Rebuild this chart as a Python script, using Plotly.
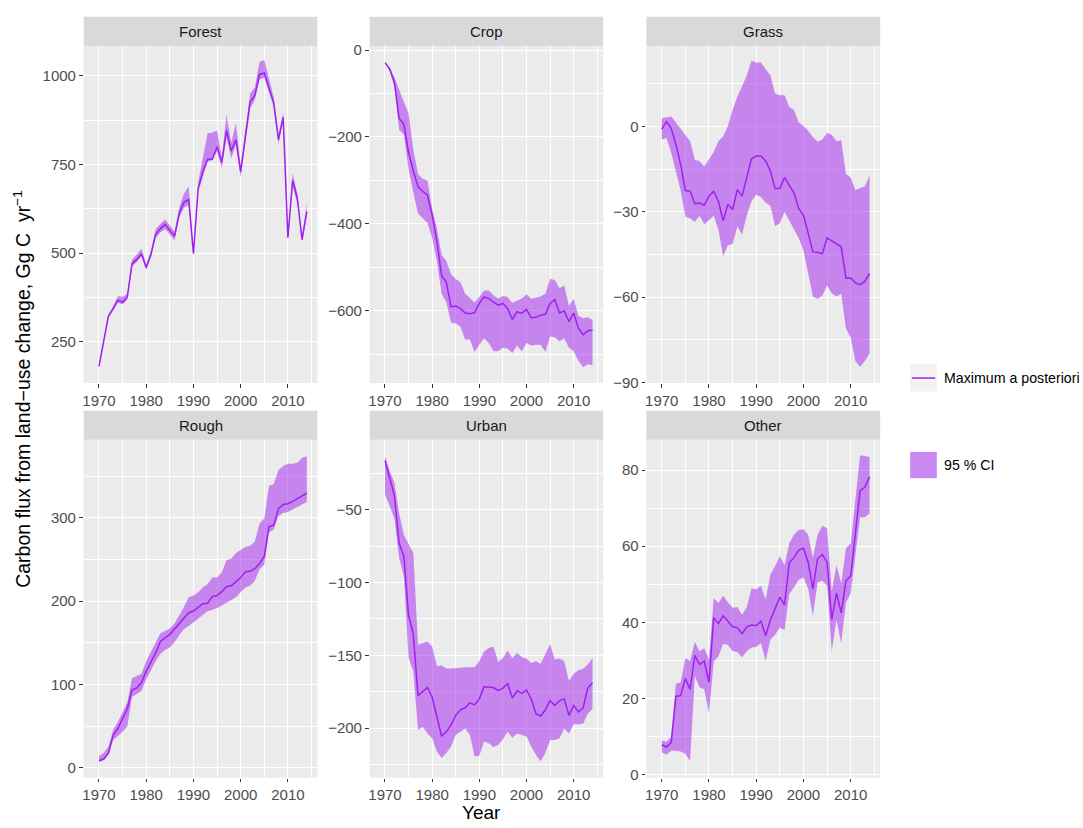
import plotly.graph_objects as go

years = list(range(1970, 2015))

forest_map = [180, 251, 322, 343, 367, 361, 376, 470, 482, 498,
              459, 496, 552, 569, 581, 564, 548, 612, 643, 651,
              499, 681, 730, 765, 765, 800, 756, 846, 788, 820,
              730, 828, 927, 945, 1004, 1008, 969, 924, 820, 883,
              543, 705, 654, 538, 617]
forest_lo = [177, 248, 318, 338, 360, 355, 368, 462, 474, 490,
             452, 488, 542, 558, 568, 552, 536, 600, 628, 636,
             494, 672, 718, 758, 762, 788, 740, 826, 768, 806,
             714, 815, 908, 932, 990, 995, 955, 912, 808, 872,
             540, 690, 640, 532, 605]
forest_hi = [183, 254, 326, 350, 378, 377, 385, 482, 495, 512,
             468, 505, 568, 582, 595, 578, 560, 630, 668, 688,
             505, 700, 768, 838, 840, 846, 768, 890, 812, 866,
             745, 845, 950, 968, 1040, 1045, 995, 940, 835, 895,
             548, 725, 668, 545, 640]

crop_map = [-29, -44, -74, -157, -171, -236, -278, -315, -325, -334,
            -380, -440, -519, -534, -591, -589, -595, -605, -607, -604,
            -583, -568, -572, -580, -587, -583, -595, -620, -602, -606,
            -597, -616, -615, -610, -608, -583, -574, -605, -600, -625,
            -605, -640, -655, -646, -644]
crop_hi = [-29, -40, -63, -93, -119, -146, -229, -285, -296, -300,
           -365, -410, -471, -485, -516, -527, -534, -561, -572, -581,
           -568, -553, -553, -564, -572, -566, -568, -582, -576, -572,
           -562, -572, -570, -567, -561, -527, -529, -548, -542, -589,
           -572, -612, -617, -615, -621]
crop_lo = [-29, -48, -85, -183, -195, -274, -327, -376, -387, -398,
           -432, -485, -561, -580, -627, -629, -636, -666, -666, -695,
           -678, -663, -674, -693, -693, -685, -687, -697, -680, -693,
           -674, -680, -678, -678, -695, -659, -661, -670, -663, -685,
           -693, -715, -730, -723, -725]

grass_map = [-0.9, 1.7, -0.6, -6.3, -13.3, -22.5, -22.8, -27.1, -26.9, -27.7,
             -24.5, -22.8, -26.3, -33.2, -27.3, -29.2, -22.2, -24.5, -17.9, -11.3,
             -10.4, -10.4, -12.1, -15.6, -21.9, -21.7, -17.9, -20.5, -23.4, -28.8,
             -31.2, -37.5, -44.1, -44.2, -44.8, -39.2, -40.2, -41.5, -42.3, -53.4,
             -53.3, -55.0, -55.6, -54.5, -51.7]
grass_hi = [2.9, 3.2, 3.5, 1.4, -0.9, -3.2, -5.2, -11.8, -12.1, -14.1,
            -11.5, -9.0, -5.2, -3.5, 0.2, 5.8, 10.4, 14.1, 17.9, 23.1,
            22.5, 22.5, 20.2, 17.9, 11.5, 11.0, 11.0, 6.9, 5.8, 1.4,
            0.2, -1.5, -3.7, -5.4, -4.6, -2.3, -2.9, -5.2, -4.8, -16.7,
            -17.9, -22.3, -21.6, -21.1, -17.1]
grass_lo = [-4.6, -4.0, -9.2, -16.2, -22.5, -31.7, -32.3, -33.5, -31.4, -34.4,
            -32.9, -31.4, -36.3, -45.6, -41.8, -41.3, -35.2, -38.1, -31.2, -26.3,
            -24.0, -24.8, -26.8, -27.9, -35.0, -34.0, -30.0, -32.9, -35.8, -39.2,
            -43.6, -51.9, -59.8, -60.6, -59.4, -55.9, -58.6, -59.8, -58.8, -71.0,
            -74.2, -82.5, -84.5, -82.5, -79.8]

rough_map = [8.7, 10.6, 17.7, 39.4, 47.2, 59.1, 70.9, 93.7, 95.7, 102.4,
             116.1, 126.8, 137.8, 151.6, 155.5, 160.2, 166.5, 173.2, 179.9, 186.2,
             188.2, 192.9, 196.9, 197.6, 205.5, 206.7, 211.4, 217.3, 218.5, 223.2,
             228.3, 235.4, 235.8, 239.0, 245.3, 253.9, 289.4, 291.3, 311.0, 316.1,
             316.9, 319.7, 322.8, 326.8, 329.5]
rough_hi = [13.8, 17.7, 25.6, 45.3, 55.1, 66.9, 78.7, 107.5, 110.2, 113.0,
            128.0, 139.8, 151.6, 161.4, 164.2, 167.3, 173.2, 183.1, 192.9, 204.7,
            206.7, 210.6, 216.5, 220.5, 228.3, 228.3, 234.3, 249.2, 250.8, 257.9,
            261.8, 265.0, 266.5, 271.7, 293.3, 299.2, 338.6, 340.6, 357.1, 362.2,
            365.0, 365.0, 366.1, 372.0, 374.0]
rough_lo = [6.7, 9.1, 15.7, 33.5, 38.2, 43.3, 50.0, 85.4, 88.6, 92.5,
            106.3, 116.9, 128.0, 136.6, 141.7, 144.5, 150.8, 159.4, 166.5, 170.1,
            174.4, 179.1, 183.1, 187.8, 189.8, 191.7, 194.9, 198.0, 200.8, 204.7,
            210.6, 216.5, 218.5, 224.4, 238.2, 244.1, 282.3, 286.0, 302.0, 305.9,
            307.1, 309.8, 313.0, 316.1, 318.9]

urban_map = [-16.2, -27.9, -40.3, -73.0, -82.0, -122.5, -135.6, -177.7, -174.8, -172.1,
             -178.8, -192.3, -205.4, -202.5, -197.7, -191.2, -187.4, -186.0, -182.6, -184.0,
             -179.9, -171.6, -172.1, -172.1, -174.3, -172.5, -169.4, -179.3, -174.3, -176.1,
             -173.9, -179.9, -190.1, -191.7, -187.4, -181.1, -184.4, -181.1, -179.9, -191.2,
             -184.4, -188.9, -186.0, -172.5, -168.9]
urban_hi = [-13.3, -23.4, -31.3, -52.7, -67.3, -73.0, -79.7, -142.8, -141.7, -140.5,
            -143.9, -157.4, -157.0, -159.0, -159.0, -159.0, -158.5, -158.1, -157.9, -158.1,
            -154.0, -147.3, -145.0, -143.9, -154.5, -151.8, -146.8, -151.8, -148.4, -151.3,
            -152.2, -155.2, -154.0, -155.8, -149.1, -142.3, -152.9, -152.2, -154.0, -167.6,
            -162.6, -160.3, -159.2, -156.3, -151.8]
urban_lo = [-39.2, -47.1, -56.1, -83.1, -95.5, -151.8, -160.8, -201.3, -199.1, -203.6,
            -207.0, -216.0, -220.5, -217.1, -212.6, -204.7, -202.5, -200.2, -204.7, -219.4,
            -218.9, -209.2, -210.3, -213.0, -211.5, -207.6, -202.5, -206.5, -203.6, -204.7,
            -205.8, -212.6, -218.2, -222.7, -217.1, -208.1, -208.1, -207.0, -200.2, -203.6,
            -197.3, -197.3, -196.9, -190.1, -186.7]

other_map = [7.8, 7.2, 8.4, 20.5, 20.7, 25.2, 22.4, 31.3, 28.9, 29.8,
             24.2, 41.2, 39.7, 41.7, 40.3, 38.8, 38.6, 37.0, 38.8, 39.3,
             39.1, 40.3, 36.5, 40.6, 43.6, 46.6, 44.6, 55.7, 57.0, 58.9,
             59.5, 55.8, 48.8, 56.7, 57.8, 55.8, 40.7, 47.7, 42.5, 50.9,
             52.2, 63.9, 74.6, 75.5, 78.3]
other_hi = [8.9, 8.6, 9.9, 23.9, 24.2, 30.6, 29.8, 34.8, 32.4, 33.2,
            30.2, 46.3, 45.1, 47.0, 45.3, 43.8, 44.0, 42.0, 44.0, 48.9,
            48.6, 49.6, 46.0, 52.6, 54.8, 57.4, 55.0, 60.8, 63.0, 64.3,
            64.5, 63.0, 57.0, 63.0, 65.4, 64.7, 48.3, 55.0, 50.3, 59.5,
            60.7, 72.1, 83.9, 83.7, 83.5]
other_lo = [5.8, 5.2, 6.2, 6.2, 6.0, 5.4, 3.5, 25.9, 22.9, 22.4,
            16.1, 29.6, 31.1, 34.3, 34.1, 32.4, 32.2, 30.8, 32.4, 33.4,
            33.5, 34.5, 29.9, 35.4, 36.7, 38.6, 38.0, 47.5, 49.2, 51.2,
            51.8, 48.8, 41.7, 50.5, 50.9, 49.6, 32.5, 40.6, 34.5, 45.3,
            47.5, 58.3, 67.6, 67.6, 68.6]

panel_names = ["Forest", "Crop", "Grass", "Rough", "Urban", "Other"]
panel_map = [forest_map, crop_map, grass_map, rough_map, urban_map, other_map]
panel_lo = [forest_lo, crop_lo, grass_lo, rough_lo, urban_lo, other_lo]
panel_hi = [forest_hi, crop_hi, grass_hi, rough_hi, urban_hi, other_hi]
y_dtick = [250, 200, 30, 100, 50, 20]
y_range = [[133.3, 1084.2], [-766, 9.1], [-90.2, 28.3], [-11.8, 393.7], [-234.0, -2.0], [-0.86, 88.0]]
legend_labels = ["Maximum a posteriori", "95 % CI"]

LINE = "#A020F0"
FILL = "rgba(160,32,240,0.5)"
FONT = "Liberation Sans, Arial, sans-serif"
TXT = 15

W, H = 1083, 828


def px(x):
    return x / W


def py(y):
    return 1 - y / H


col_px = [(82.7, 316.7), (369.0, 602.7), (646.0, 880.0)]
row_px = [(41.7, 384.0), (441.7, 785.0)]
strip_px = [(12.0, 41.7), (412.3, 441.7)]

fig = go.Figure()
layout = {}
shapes = []
annotations = []

for i, name in enumerate(panel_names):
    r, c = divmod(i, 3)
    ax = "" if i == 0 else str(i + 1)
    xref, yref = "x" + ax, "y" + ax
    fig.add_trace(go.Scatter(x=years, y=panel_lo[i], mode="lines", line=dict(width=0),
                             xaxis=xref, yaxis=yref, showlegend=False, hoverinfo="skip"))
    fig.add_trace(go.Scatter(x=years, y=panel_hi[i], mode="lines", line=dict(width=0),
                             fill="tonexty", fillcolor=FILL,
                             xaxis=xref, yaxis=yref, showlegend=False, hoverinfo="skip"))
    fig.add_trace(go.Scatter(x=years, y=panel_map[i], mode="lines",
                             line=dict(color=LINE, width=1.5),
                             xaxis=xref, yaxis=yref, showlegend=False))
    x0, x1 = col_px[c]
    y0, y1 = row_px[r]
    common = dict(showgrid=True, gridcolor="white", gridwidth=1.4, zeroline=False,
                  showline=False, ticks="outside", ticklen=3.7, tickwidth=1.2,
                  tickcolor="#333333", tickfont=dict(family=FONT, size=TXT, color="#4D4D4D"))
    layout["xaxis" + ax] = dict(common, domain=[px(x0), px(x1)], anchor=yref,
                                range=[1966.75, 2016.25], tick0=1970, dtick=10,
                                minor=dict(dtick=5, tick0=1970, showgrid=True, gridcolor="white",
                                           gridwidth=0.7, ticklen=0))
    layout["yaxis" + ax] = dict(common, domain=[py(y1), py(y0)], anchor=xref,
                                range=y_range[i], tick0=0, dtick=y_dtick[i],
                                minor=dict(dtick=y_dtick[i] / 2, tick0=0, showgrid=True,
                                           gridcolor="white", gridwidth=0.7, ticklen=0))
    s0, s1 = strip_px[r]
    shapes.append(dict(type="rect", xref="paper", yref="paper", x0=px(x0), x1=px(x1),
                       y0=py(s1), y1=py(s0), fillcolor="#D9D9D9", line=dict(width=0),
                       layer="below"))
    annotations.append(dict(text=name, xref="paper", yref="paper", x=px((x0 + x1) / 2),
                            y=py((s0 + s1) / 2), showarrow=False, xanchor="center",
                            yanchor="middle", font=dict(family=FONT, size=TXT, color="#1A1A1A")))

# Axis titles
annotations.append(dict(text="Year", xref="paper", yref="paper", x=px((82.7 + 880) / 2),
                        y=py(820), showarrow=False, xanchor="center", yanchor="middle",
                        font=dict(family=FONT, size=19, color="black")))
annotations.append(dict(text="Carbon flux from land\u2212use change, Gg C  yr<sup>\u22121</sup>",
                        xref="paper", yref="paper", x=px(21), y=py(390), showarrow=False,
                        textangle=-90, xanchor="center", yanchor="middle",
                        font=dict(family=FONT, size=19.5, color="black")))

# Legend (drawn manually, ggplot style)
shapes.append(dict(type="rect", xref="paper", yref="paper", x0=px(910), x1=px(936.7),
                   y0=py(392.7), y1=py(365), fillcolor="#F2F2F2", line=dict(width=0)))
shapes.append(dict(type="line", xref="paper", yref="paper", x0=px(911.7), x1=px(935),
                   y0=py(379), y1=py(379), line=dict(color=LINE, width=1.5)))
shapes.append(dict(type="rect", xref="paper", yref="paper", x0=px(910), x1=px(936.7),
                   y0=py(480.7), y1=py(454), fillcolor="#F2F2F2", line=dict(width=0)))
shapes.append(dict(type="rect", xref="paper", yref="paper", x0=px(910), x1=px(936.7),
                   y0=py(480.7), y1=py(454), fillcolor=FILL, line=dict(width=0)))
for lab, yc in zip(legend_labels, [379, 467]):
    annotations.append(dict(text=lab, xref="paper", yref="paper", x=px(941.7), y=py(yc),
                            showarrow=False, xanchor="left", yanchor="middle",
                            font=dict(family=FONT, size=14.2, color="black")))

fig.update_layout(width=W, height=H, margin=dict(l=0, r=0, t=0, b=0),
                  paper_bgcolor="white", plot_bgcolor="#EBEBEB", showlegend=False,
                  shapes=shapes, annotations=annotations, **layout)
# Remove the page's default body margin so the figure fills the window exactly.
fig.write_html("out.html", config={"displayModeBar": False},
               post_script="document.body.style.margin='0px';document.body.style.overflow='hidden';")
